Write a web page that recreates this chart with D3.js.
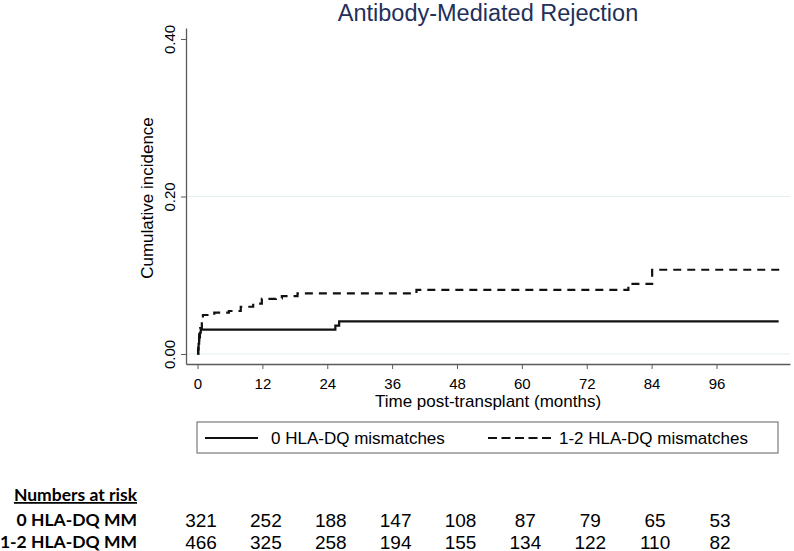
<!DOCTYPE html>
<html>
<head>
<meta charset="utf-8">
<script src="https://cdn.jsdelivr.net/npm/d3@7"></script>
<style>
  html, body { margin: 0; padding: 0; background: #fff; }
  svg { display: block; }
  text { font-family: "Liberation Sans", Arial, Helvetica, sans-serif; }
</style>
</head>
<body>
<svg id="chart" width="794" height="551"></svg>
<script>
// ---- Data ----
const title = "Antibody-Mediated Rejection";
const xTitle = "Time post-transplant (months)";
const yTitle = "Cumulative incidence";
const xTicks = [0, 12, 24, 36, 48, 60, 72, 84, 96];
const yTicks = [0, 0.2, 0.4];
const yTickLabels = ["0.00", "0.20", "0.40"];
const seriesNames = ["0 HLA-DQ mismatches", "1-2 HLA-DQ mismatches"];

// 0 HLA-DQ mismatches (step function)
const months0 = [0, 0.1, 0.2, 0.3, 0.45, 0.6, 25.5, 26.2, 107.5];
const inc0    = [0, 0.006, 0.013, 0.021, 0.027, 0.031, 0.036, 0.0415, 0.0415];

// 1-2 HLA-DQ mismatches (step function)
const months12 = [0, 0.15, 0.3, 0.5, 0.8, 1.0, 3.1, 5.8, 8.0, 10.3, 11.9, 14.5, 15.6, 18.5, 40.5, 79.7, 84.1, 107.8];
const inc12    = [0, 0.015, 0.025, 0.033, 0.041, 0.0495, 0.0525, 0.0546, 0.060, 0.064, 0.070, 0.0707, 0.0736, 0.077, 0.0815, 0.089, 0.107, 0.107];

// Numbers at risk
const riskHeader = "Numbers at risk";
const riskLabels = ["0 HLA-DQ MM", "1-2 HLA-DQ MM"];
const risk0  = [321, 252, 188, 147, 108, 87, 79, 65, 53];
const risk12 = [466, 325, 258, 194, 155, 134, 122, 110, 82];

// ---- Chart ----
const svg = d3.select("#chart");
svg.append("rect").attr("width", 794).attr("height", 551).attr("fill", "#fff");

const x = d3.scaleLinear().domain([-2.13, 109.6]).range([186, 790]);
const y = d3.scaleLinear().domain([-0.0127, 0.414]).range([364, 28]);

const axisColor = "#5a5a5a";

// gridlines (0.00 and 0.20)
svg.append("g").selectAll("line")
  .data(yTicks.filter(d => d < 0.4))
  .join("line")
  .attr("x1", x.range()[0]).attr("x2", x.range()[1])
  .attr("y1", d => y(d)).attr("y2", d => y(d))
  .attr("stroke", "#e6eff0").attr("stroke-width", 1.2);

// Y axis
const yAxis = d3.axisLeft(y).tickValues(yTicks).tickSize(5).tickSizeOuter(0)
  .tickFormat((d, i) => yTickLabels[i]);
const gy = svg.append("g").attr("transform", `translate(${x.range()[0]},0)`).call(yAxis);
gy.select(".domain").attr("stroke", axisColor).attr("stroke-width", 1.3);
gy.selectAll(".tick line").attr("stroke", axisColor);
gy.selectAll(".tick text")
  .attr("x", null).attr("dy", null)
  .attr("transform", "translate(-11,0) rotate(-90)")
  .attr("text-anchor", "middle")
  .attr("fill", "#000")
  .style("font-size", "15px")
  .style("font-family", "'Liberation Sans', Arial, sans-serif");

// X axis
const xAxis = d3.axisBottom(x).tickValues(xTicks).tickSize(5).tickSizeOuter(0);
const gx = svg.append("g").attr("transform", `translate(0,${y.range()[0]})`).call(xAxis);
gx.select(".domain").attr("stroke", axisColor).attr("stroke-width", 1.3);
gx.selectAll(".tick line").attr("stroke", axisColor);
gx.selectAll(".tick text")
  .attr("y", 25).attr("dy", null)
  .attr("fill", "#000")
  .style("font-size", "15px")
  .style("font-family", "'Liberation Sans', Arial, sans-serif");

// Axis titles
svg.append("text")
  .attr("x", (x.range()[0] + x.range()[1]) / 2).attr("y", 407)
  .attr("text-anchor", "middle").style("font-size", "17px").attr("fill", "#000")
  .text(xTitle);
svg.append("text")
  .attr("transform", `translate(153,${(y.range()[0] + y.range()[1]) / 2 + 2}) rotate(-90)`)
  .attr("text-anchor", "middle").style("font-size", "17px").attr("fill", "#000")
  .text(yTitle);

// Title
svg.append("text")
  .attr("x", (x.range()[0] + x.range()[1]) / 2).attr("y", 21)
  .attr("text-anchor", "middle").style("font-size", "23.5px").attr("fill", "#22305a")
  .text(title);

// Curves
const line = d3.line().x(d => x(d[0])).y(d => y(d[1])).curve(d3.curveStepAfter);
const data0 = months0.map((m, i) => [m, inc0[i]]);
const data12 = months12.map((m, i) => [m, inc12[i]]);

svg.append("path").datum(data12).attr("d", line)
  .attr("fill", "none").attr("stroke", "#111").attr("stroke-width", 2.2)
  .attr("stroke-dasharray", "8,6");
svg.append("path").datum(data0).attr("d", line)
  .attr("fill", "none").attr("stroke", "#111").attr("stroke-width", 2.2);

// Legend
const lg = svg.append("g");
lg.append("rect").attr("x", 197).attr("y", 422).attr("width", 581).attr("height", 31)
  .attr("fill", "#fff").attr("stroke", "#7a7a7a").attr("stroke-width", 1.2);
lg.append("line").attr("x1", 205).attr("x2", 258).attr("y1", 438).attr("y2", 438)
  .attr("stroke", "#111").attr("stroke-width", 2);
lg.append("text").attr("x", 271).attr("y", 444).style("font-size", "17px").text(seriesNames[0]);
lg.append("line").attr("x1", 488).attr("x2", 551).attr("y1", 438).attr("y2", 438)
  .attr("stroke", "#111").attr("stroke-width", 2).attr("stroke-dasharray", "9,4.5");
lg.append("text").attr("x", 559).attr("y", 444).style("font-size", "17px").text(seriesNames[1]);

// Numbers at risk
const labelFont = "Lato, 'Open Sans', sans-serif";
svg.append("text").attr("x", 137).attr("y", 501)
  .attr("text-anchor", "end").style("font-family", labelFont).style("font-weight", "bold")
  .style("font-size", "17.5px").style("text-decoration", "underline").text(riskHeader);
svg.append("text").attr("x", 137).attr("y", 526)
  .attr("text-anchor", "end").style("font-family", labelFont).style("font-weight", "bold")
  .style("font-size", "17.5px").text(riskLabels[0]);
svg.append("text").attr("x", 137).attr("y", 548)
  .attr("text-anchor", "end").style("font-family", labelFont).style("font-weight", "bold")
  .style("font-size", "17.5px").text(riskLabels[1]);

svg.append("g").selectAll("text").data(risk0).join("text")
  .attr("x", (d, i) => x(xTicks[i]) + 3.5).attr("y", 527)
  .attr("text-anchor", "middle").style("font-size", "19px").text(d => d);
svg.append("g").selectAll("text").data(risk12).join("text")
  .attr("x", (d, i) => x(xTicks[i]) + 3.5).attr("y", 548.5)
  .attr("text-anchor", "middle").style("font-size", "19px").text(d => d);
</script>
</body>
</html>
